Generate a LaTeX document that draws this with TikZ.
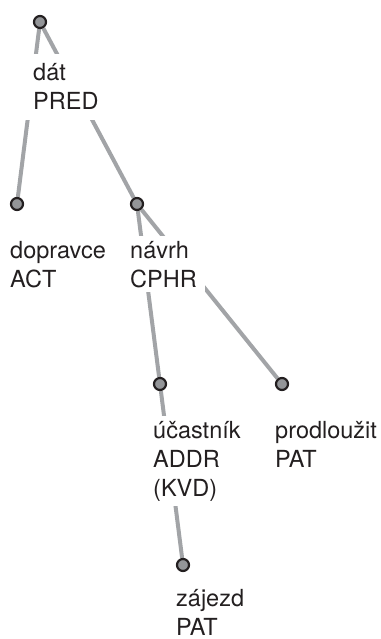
\documentclass[tikz,border=0pt]{standalone}
\usepackage{fontspec}
\setmainfont{TeX Gyre Heros}
\usetikzlibrary{backgrounds}
\definecolor{edgegray}{RGB}{162,164,167}
\definecolor{nodegray}{RGB}{147,149,152}
\definecolor{inkdark}{RGB}{35,31,32}

\begin{document}
\begin{tikzpicture}[x=1pt,y=-1pt]
		\tikzstyle {tree node} = [circle, draw=inkdark, fill=nodegray, line width=2.2pt, minimum size=12pt, inner sep=0pt]
		\tikzstyle {tree label} = [anchor=base west, align=left, fill=white, inner xsep=8pt, inner ysep=5pt, text=inkdark, font=\fontsize{23.5}{29}\selectfont]
		\tikzstyle {tree edge} = [draw=edgegray, line width=4pt]

		\useasboundingbox (0,0) rectangle (380,639);

		% circles of the tree
		\foreach \n/\x/\y in {dat/40/22, dopravce/17/204, navrh/137/204, ucastnik/160/384, prodlouzit/282/384, zajezd/183/565}
		{
			\node[tree node] (\n) at (\x,\y) {};
		}

		% labels: lemma and functor (placed at baseline of last line)
		\node[tree label, inner ysep=10pt] (dat-l) at (25,110) {dát\\PRED};
		\node[tree label] (dopravce-l) at (2,287) {dopravce\\ACT};
		\node[tree label] (navrh-l) at (122,287) {návrh\\CPHR};
		\node[tree label] (ucastnik-l) at (145,496) {účastník\\ADDR\\(KVD)};
		\node[tree label] (prodlouzit-l) at (267,467) {prodloužit\\PAT};
		\node[tree label, inner ysep=2pt] (zajezd-l) at (168,635) {zájezd\\PAT};

		% edges behind labels
		\begin{pgfonlayer}{background}
			\foreach \a/\b in {dat/dopravce, dat/navrh, navrh/ucastnik, navrh/prodlouzit, ucastnik/zajezd}
			{
				\draw[tree edge] (\a) -- (\b);
			}
		\end{pgfonlayer}
\end{tikzpicture}
\end{document}
